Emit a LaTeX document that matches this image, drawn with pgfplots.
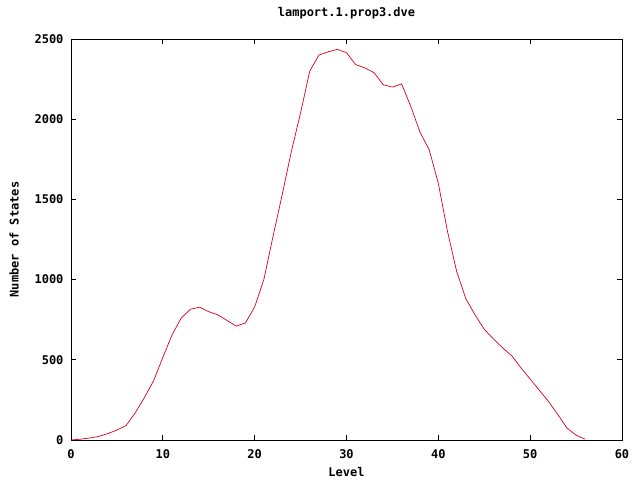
\documentclass[border=0pt]{standalone}
\usepackage{fontspec}
\usepackage{pgfplots}
\pgfplotsset{compat=1.18}
\newfontfamily\gp{DejaVu Sans Mono Bold}
\definecolor{gpred}{rgb}{0.85,0,0.1}
\begin{document}
\begin{tikzpicture}[x=1pt,y=1pt]
\useasboundingbox (0,0) rectangle (640,480);
\begin{axis}[
  at={(71pt,40pt)}, anchor=south west,
  scale only axis, width=551pt, height=401pt,
  xmin=0, xmax=60, ymin=0, ymax=2500,
  xtick={0,10,...,60}, ytick={0,500,...,2500},
  xtick pos=both, ytick pos=both, tick align=inside,
  major tick length=5pt,
  axis line style={line width=0.7pt},
  every tick/.style={line width=0.7pt, black},
  /pgf/number format/assume math mode=true,
  /pgf/number format/1000 sep={},
  tick label style={font=\fontsize{12}{14}\gp},
  x tick label style={yshift=-6pt},
  y tick label style={xshift=-4pt},
  title={lamport.1.prop3.dve},
  xlabel={Level}, ylabel={Number of States},
  label style={font=\fontsize{12}{14}\gp},
  title style={font=\fontsize{12}{14}\gp, at={(axis description cs:0.5,1.0499)}, anchor=center},
  xlabel style={at={(axis description cs:0.5,-0.0798)}, anchor=center},
  ylabel style={at={(axis description cs:-0.1034,0.5)}, anchor=center, rotate=0},
]
\addplot[color=gpred, line width=0.7pt, mark=none] coordinates {
(0,0) (1,5) (2,12) (3,22) (4,40) (5,62) (6,90) (7,170) (8,265) (9,370)
(10,515) (11,655) (12,760) (13,815) (14,828) (15,800) (16,780) (17,745) (18,710) (19,730)
(20,830) (21,1000) (22,1270) (23,1530) (24,1800) (25,2040) (26,2300) (27,2400) (28,2420) (29,2435)
(30,2415) (31,2340) (32,2320) (33,2290) (34,2215) (35,2200) (36,2220) (37,2080) (38,1920) (39,1810)
(40,1600) (41,1300) (42,1050) (43,880) (44,780) (45,690) (46,630) (47,575) (48,525) (49,450)
(50,380) (51,310) (52,240) (53,160) (54,75) (55,30) (56,5)
};
\end{axis}
\end{tikzpicture}
\end{document}
